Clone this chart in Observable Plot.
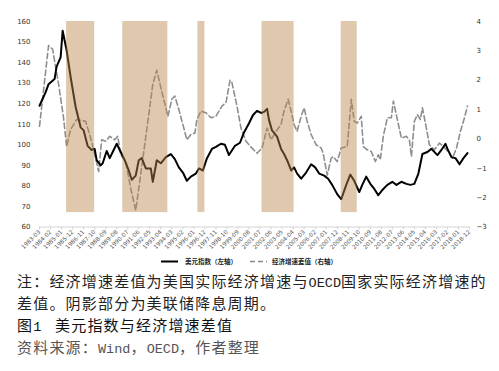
<!DOCTYPE html>
<html>
<head>
<meta charset="utf-8">
<script src="https://cdn.jsdelivr.net/npm/d3@7"></script>
<script src="https://cdn.jsdelivr.net/npm/@observablehq/plot@0.6"></script>
<style>
  html, body { margin: 0; padding: 0; background: #fff; }
  #wrap { position: relative; width: 499px; height: 371px; overflow: hidden; }
  #chart { position: absolute; left: 0; top: 0; }
  .leg { position: absolute; font-family: "Noto Sans CJK SC", sans-serif; font-size: 6.5px; font-weight: bold; color: #222; line-height: 8px; white-space: nowrap; }
  .cap { position: absolute; left: 17px; font-family: "Noto Sans CJK SC", sans-serif; font-size: 15px; line-height: 15px; letter-spacing: 1.2px; white-space: nowrap; }
  .cap .m { font-family: "Liberation Mono", monospace; font-size: 13.5px; letter-spacing: 0; }
</style>
</head>
<body>
<div id="wrap">
  <div id="chart"></div>
  <svg class="leg" style="left:160px;top:256.5px" width="20" height="8"><line x1="1" y1="4.5" x2="18" y2="4.5" stroke="#000" stroke-width="2"/></svg>
  <div class="leg" style="left:185px;top:257px">美元指数（左轴）</div>
  <svg class="leg" style="left:249px;top:256.5px" width="20" height="8"><line x1="1" y1="4.5" x2="18" y2="4.5" stroke="#888" stroke-width="1.6" stroke-dasharray="5,3"/></svg>
  <div class="leg" style="left:272px;top:257px">经济增速差值（右轴）</div>
  <div class="cap" style="top:272.5px;color:#222">注：经济增速差值为美国实际经济增速与<span class="m">OECD</span>国家实际经济增速的</div>
  <div class="cap" style="top:294.5px;color:#222">差值。阴影部分为美联储降息周期。</div>
  <div class="cap" style="top:316.5px;color:#111">图<span class="m">1</span>&nbsp;&nbsp;&nbsp;美元指数与经济增速差值</div>
  <div class="cap" style="top:338.5px;color:#555">资料来源：<span class="m">Wind</span>，<span class="m">OECD</span>，作者整理</div>
</div>
<script>
// ---- data ----
const dxyDates = ["1983-03","1983-09","1983-12","1984-06","1984-08","1984-12","1985-02","1985-06","1985-10","1986-03","1986-08","1986-11","1987-03","1987-07","1987-10","1987-12","1988-04","1988-06","1988-10","1989-01","1989-04","1989-08","1989-11","1990-04","1990-08","1990-11","1991-03","1991-06","1991-09","1992-01","1992-06","1992-08","1992-12","1993-04","1993-09","1994-02","1994-06","1994-10","1995-02","1995-06","1995-10","1996-03","1996-06","1996-10","1997-02","1997-07","1997-11","1998-04","1998-08","1998-12","1999-06","1999-11","2000-03","2000-08","2000-12","2001-04","2001-08","2001-11","2002-02","2002-04","2002-07","2002-12","2003-04","2003-07","2003-10","2004-02","2004-05","2004-08","2004-12","2005-05","2005-10","2006-02","2006-06","2006-11","2007-03","2007-07","2007-12","2008-04","2008-09","2009-01","2009-05","2009-10","2010-01","2010-05","2010-09","2011-01","2011-05","2011-09","2012-02","2012-07","2012-11","2013-04","2013-09","2014-01","2014-05","2014-09","2015-01","2015-06","2015-10","2016-04","2016-08","2016-12","2017-02","2017-06","2017-10","2018-02","2018-06","2018-10"];
const dxyValues = [119,125.5,129.5,132,138,142.5,155.5,146,133,118.5,108.5,107,99.5,97.5,98,92.5,90,91,97,93.5,96.5,100.5,97.5,92.5,87.5,83,85,92.5,93.5,88.5,88.5,82,92.5,91,94,95.5,93,89,86.5,82.5,84.5,86,88.5,87.5,93.5,98,99,100.5,100,95,99.5,101,106,110.5,114.5,116.5,115.5,116,117.5,112,107,104,98,95.5,92.5,87.5,89,86,83.5,86.5,90.5,89,86,85,83.5,80.5,76,73.5,80.5,85.5,82.5,77,80.5,84.5,81,78.5,75.5,78,80.5,82,80.5,82,81,80.5,81,86,95.5,96.5,98,95,97.5,100.5,98,94,93.5,90.5,93.5,96];

const gapDates = ["1983-03","1983-12","1984-04","1984-10","1985-03","1985-06","1985-10","1986-04","1987-01","1987-05","1987-09","1988-02","1988-05","1988-09","1989-01","1989-06","1989-09","1989-12","1990-05","1990-10","1991-03","1991-06","1991-11","1992-04","1992-08","1992-12","1993-04","1993-09","1993-11","1994-03","1994-06","1994-10","1995-03","1995-06","1995-10","1996-02","1996-04","1996-08","1997-01","1997-06","1997-11","1998-05","1998-09","1999-01","1999-03","1999-08","1999-12","2000-05","2000-10","2001-04","2001-09","2002-02","2002-06","2002-11","2003-04","2003-07","2003-11","2004-02","2004-05","2004-08","2004-12","2005-03","2005-06","2005-10","2006-03","2006-08","2006-10","2007-02","2007-06","2007-08","2007-12","2008-04","2008-10","2009-02","2009-05","2009-08","2009-12","2010-02","2010-06","2010-10","2011-02","2011-05","2011-07","2011-10","2012-02","2012-06","2012-08","2012-12","2013-04","2013-09","2013-12","2014-02","2014-05","2014-08","2014-11","2015-01","2015-05","2015-08","2016-01","2016-06","2016-10","2017-04","2017-07","2017-11","2018-03","2018-07","2018-10"];
const gapValues = [0.43,3.18,3.06,1.86,0.72,-0.26,0.32,0.66,0.6,0.15,-0.37,-1.11,-0.03,-0.08,0.09,-0.03,0.09,-0.54,-0.77,-1.69,-2.43,-1.69,-0.43,0.83,1.86,2.34,1.75,1.06,0.77,1.35,1.46,1.0,0.37,-0.03,0.15,0.2,0.66,0.95,0.89,0.72,0.77,1.12,1.23,2.0,1.92,1.12,0.37,-0.08,-0.28,-0.49,-0.31,0.37,-0.03,0.26,0.49,0.95,1.35,0.95,0.49,0.26,0.77,1.06,0.6,0.15,-0.2,-0.31,-0.49,-1.23,-0.66,-0.6,-0.77,-0.31,-0.26,1.35,0.6,0.54,0.77,-0.26,-0.37,-0.43,-0.77,-0.54,-0.71,0.09,0.72,0.72,1.29,0.66,0.03,0.09,-0.03,-0.6,0.6,0.83,0.66,1.06,0.37,-0.2,-0.37,-0.14,-0.26,-0.49,-0.66,-0.31,0.26,0.72,1.12];

const easeStart = ["1985-06","1990-02","1996-05","2001-09","2008-04"];
const easeEnd   = ["1987-10","1993-11","1996-12","2004-05","2009-08"];

const xTickLabels = ["1983-03","1984-02","1985-01","1985-12","1986-11","1987-10","1988-09","1989-08","1990-07","1991-06","1992-05","1993-04","1994-03","1995-02","1996-01","1996-12","1997-11","1998-10","1999-09","2000-08","2001-07","2002-06","2003-05","2004-04","2005-03","2006-02","2007-01","2007-12","2008-11","2009-10","2010-09","2011-08","2012-07","2013-06","2014-05","2015-04","2016-03","2017-02","2018-01","2018-12"];
const leftTicks = [60,70,80,90,100,110,120,130,140,150,160];
const rightTicks = [-3,-2,-1,0,1,2,3,4];
const leftDomain = [60, 160];
const rightDomain = [-3, 4];
const shadeFloor = 67;

// ---- build ----
const parse = d3.utcParse("%Y-%m");
const dxy = dxyDates.map((d, i) => ({date: parse(d), v: dxyValues[i]}));
const gap = gapDates.map((d, i) => ({date: parse(d), v: gapValues[i]}));
const ease = easeStart.map((d, i) => ({s: parse(d), e: parse(easeEnd[i])}));
const toLeft = v => leftDomain[0] + (v - rightDomain[0]) * (leftDomain[1] - leftDomain[0]) / (rightDomain[1] - rightDomain[0]);
const fromLeft = y => rightDomain[0] + (y - leftDomain[0]) * (rightDomain[1] - rightDomain[0]) / (leftDomain[1] - leftDomain[0]);
const fmtR = d3.format("d");

const chart = Plot.plot({
  width: 499,
  height: 255,
  marginLeft: 39,
  marginRight: 30,
  marginTop: 21,
  marginBottom: 28.5,
  style: {fontFamily: "DejaVu Sans, sans-serif", fontSize: "7px", color: "#333", background: "transparent"},
  x: {type: "utc", domain: [parse(xTickLabels[0]), parse(xTickLabels[xTickLabels.length - 1])]},
  y: {domain: leftDomain},
  marks: [
    Plot.line(gap, {x: "date", y: d => toLeft(d.v), stroke: "#8e8e8e", strokeWidth: 1.6, strokeDasharray: "5.5,3"}),
    Plot.line(dxy, {x: "date", y: "v", stroke: "#000", strokeWidth: 2}),
    Plot.rect(ease, {x1: "s", x2: "e", y1: shadeFloor, y2: leftDomain[1], fill: "#b8864a", fillOpacity: 0.45}),
    Plot.ruleY([leftDomain[0]], {stroke: "#d4d4d4", strokeWidth: 1}),
    Plot.axisX({ticks: xTickLabels.map(parse), tickFormat: d3.utcFormat("%Y-%m"), tickRotate: -45, tickSize: 3, tickPadding: 1, stroke: "#d4d4d4", fill: "#555", fontSize: 5.8, label: null}),
    Plot.axisY({ticks: leftTicks, anchor: "left", tickSize: 0, tickPadding: 9, label: null, fill: "#333"}),
    Plot.axisY({ticks: rightTicks.map(toLeft), anchor: "right", tickSize: 0, tickPadding: 7, label: null, tickFormat: y => fmtR(Math.round(fromLeft(y))), fill: "#333"})
  ]
});
document.getElementById("chart").appendChild(chart);
</script>
</body>
</html>
